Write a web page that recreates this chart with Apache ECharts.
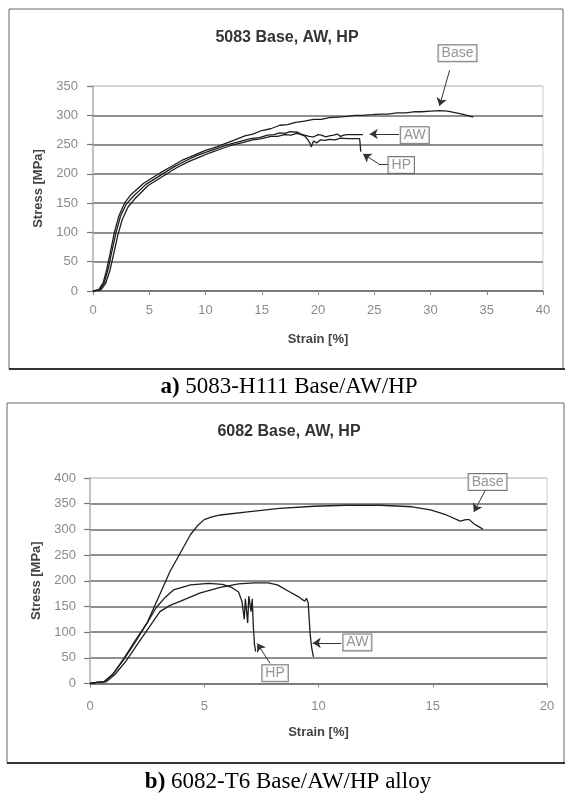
<!DOCTYPE html>
<html>
<head>
<meta charset="utf-8">
<script src="https://cdn.jsdelivr.net/npm/echarts@6/dist/echarts.min.js"></script>
<style>
html,body{margin:0;padding:0;background:#fff;}
#chart{width:565px;height:794px;}
</style>
</head>
<body>
<div id="chart"></div>
<script>
// ---------- Chart a) 5083 ----------
const titleA = '5083 Base, AW, HP';
const captionA = ['a)', ' 5083-H111 Base/AW/HP'];
const xTicksA = {min: 0, max: 40, interval: 5};
const yTicksA = {min: 0, max: 350, interval: 50};
const baseA = [[0,0],[0.5,2],[0.9,14],[1.2,35],[1.5,62],[1.9,100],[2.3,128],[2.8,150],[3.3,163],[4.5,184],[6.0,202],[7.0,213],[8.0,224],[9.0,232],[10.0,240],[11.0,246],[11.5,250],[12.5,257],[13.5,265],[14.2,268],[15.0,274],[15.8,277],[16.6,283],[17.3,284],[18.0,288],[18.8,290],[19.6,293],[20.3,293],[21.0,296],[21.8,297],[22.6,298],[23.3,300],[24.0,300],[24.8,301],[25.5,302],[26.2,302],[27.0,304],[27.8,304],[28.5,306],[29.2,306],[30.0,307],[30.8,308],[31.5,307],[32.3,304],[33.0,301],[33.8,297]];
const awA = [[0,0],[0.6,2],[1.0,14],[1.35,38],[1.65,65],[2.05,100],[2.45,128],[2.95,148],[3.5,160],[4.7,182],[6.2,200],[7.2,212],[8.2,222],[9.2,231],[10.2,238],[11.1,244],[12.0,250],[13.0,255],[14.0,260],[14.8,262],[15.5,266],[16.1,267],[16.6,270],[17.1,269],[17.5,272],[18.2,271],[18.5,268],[18.8,266],[19.2,264],[19.6,263],[20.0,267],[20.3,266],[20.7,263],[21.0,265],[21.4,266],[21.7,268],[22.0,264],[22.3,266],[22.6,267],[23.3,267],[24.0,267]];
const hpA = [[0,0],[0.7,2],[1.1,12],[1.5,35],[1.8,60],[2.2,95],[2.6,122],[3.1,143],[3.7,157],[4.9,180],[6.4,198],[7.4,210],[8.4,220],[9.4,228],[10.4,236],[11.3,242],[12.2,248],[13.2,253],[14.2,258],[15.0,260],[15.8,264],[16.4,264],[17.0,267],[17.6,266],[18.1,269],[18.5,267],[18.8,265],[19.1,258],[19.3,252],[19.4,246],[19.6,256],[19.9,253],[20.2,258],[20.6,257],[21.0,259],[21.5,258],[22.0,261],[22.6,260],[23.3,260],[23.7,260],[23.75,250],[23.8,238]];
const labelsA = [
  {name: 'Base', value: [32.4, 406]},
  {name: 'AW', value: [28.6, 266]},
  {name: 'HP', value: [27.4, 215]}
];
const leadersA = [
  {coords: [[26.2, 217], [25.4, 217]]}
];
const arrowsA = [
  {coords: [[31.7, 377], [30.8, 316]]},
  {coords: [[27.2, 268], [24.6, 268]]},
  {coords: [[25.4, 217], [24.0, 234]]}
];

// ---------- Chart b) 6082 ----------
const titleB = '6082 Base, AW, HP';
const captionB = ['b)', ' 6082-T6 Base/AW/HP alloy'];
const xTicksB = {min: 0, max: 20, interval: 5};
const yTicksB = {min: 0, max: 400, interval: 50};
const baseB = [[0,0],[0.3,2],[0.6,3],[1.0,18],[1.5,50],[2.0,85],[2.5,118],[3.0,168],[3.5,218],[4.0,258],[4.4,290],[4.7,307],[5.0,319],[5.3,324],[5.7,328],[6.9,334],[8.3,341],[9.8,345],[11.2,347],[12.7,347],[14.1,344],[14.9,338],[15.6,328],[16.2,316],[16.45,319],[16.6,319],[16.8,311],[17.1,303],[17.2,300]];
const awB = [[0,0],[0.3,2],[0.7,3],[1.1,18],[1.6,45],[2.1,78],[2.6,110],[3.06,140],[3.5,152],[3.94,160],[4.8,176],[5.7,187],[6.5,194],[7.2,196],[7.8,196],[8.2,192],[8.75,178],[9.15,168],[9.4,160],[9.47,166],[9.55,157],[9.63,98],[9.7,70],[9.78,52]];
const hpB = [[0,0],[0.3,2],[0.6,3],[1.0,18],[1.5,48],[2.0,82],[2.5,118],[2.9,148],[3.3,168],[3.65,182],[4.4,192],[5.2,195],[5.8,193],[6.2,187],[6.5,178],[6.65,160],[6.75,125],[6.8,165],[6.9,118],[6.95,170],[7.05,140],[7.1,165],[7.15,110],[7.2,75],[7.25,62]];
const labelsB = [
  {name: 'Base', value: [17.4, 392]},
  {name: 'AW', value: [11.7, 80]},
  {name: 'HP', value: [8.1, 20]}
];
const leadersB = [];
const arrowsB = [
  {coords: [[17.35, 380], [16.8, 334]]},
  {coords: [[11.0, 79], [9.75, 79]]},
  {coords: [[7.88, 39], [7.32, 78]]}
];

const SANS = '"Liberation Sans", Arial, sans-serif';
const SERIF = '"Liberation Serif", "Times New Roman", serif';
const GRID_C = '#6a6a6a';

function splitColors(n) {
  const arr = [];
  for (let i = 0; i < n; i++) arr.push(i === n - 1 ? '#cfcfcf' : GRID_C);
  return arr;
}

function xAxisCfg(idx, ticks, margin, gap) {
  return {
    gridIndex: idx, type: 'value', min: ticks.min, max: ticks.max, interval: ticks.interval,
    name: 'Strain [%]', nameLocation: 'middle', nameGap: gap,
    nameTextStyle: {fontFamily: SANS, fontWeight: 'bold', fontSize: 13, color: '#444'},
    axisLine: {show: true, lineStyle: {color: '#777', width: 1.5}},
    axisTick: {show: true, length: 4, lineStyle: {color: '#888'}},
    axisLabel: {fontFamily: SANS, fontSize: 13, color: '#8a8a8a', margin: margin},
    splitLine: {show: false}
  };
}
function yAxisCfg(idx, ticks, gap, margin) {
  const n = (ticks.max - ticks.min) / ticks.interval + 1;
  return {
    gridIndex: idx, type: 'value', min: ticks.min, max: ticks.max, interval: ticks.interval,
    name: 'Stress [MPa]', nameLocation: 'middle', nameGap: gap, nameRotate: 90,
    nameTextStyle: {fontFamily: SANS, fontWeight: 'bold', fontSize: 13, color: '#444'},
    axisLine: {show: true, lineStyle: {color: '#b5b5b5', width: 1.5}},
    axisTick: {show: true, length: 6, lineStyle: {color: '#777', width: 1.2}},
    axisLabel: {fontFamily: SANS, fontSize: 13, color: '#8a8a8a', margin: margin},
    splitLine: {show: true, lineStyle: {color: splitColors(n), width: 1.5}}
  };
}
function curve(name, data, idx) {
  return {
    name: name, type: 'line', xAxisIndex: idx, yAxisIndex: idx, data: data,
    showSymbol: false, symbol: 'none', smooth: false, clip: false,
    lineStyle: {color: '#1e1e1e', width: 1.3}, z: 3
  };
}
function labelSeries(data, idx) {
  return {
    type: 'scatter', xAxisIndex: idx, yAxisIndex: idx, data: data, symbolSize: 1,
    itemStyle: {color: 'rgba(0,0,0,0)'}, clip: false, z: 5, silent: true,
    label: {
      show: true, position: 'inside', formatter: '{b}',
      fontFamily: SANS, fontSize: 14, color: '#7a7a7a',
      backgroundColor: '#fff', borderColor: '#555', borderWidth: 1, padding: [1, 3, 0, 3], lineHeight: 15
    }
  };
}
function segSeries(data, idx, withArrow) {
  return {
    type: 'lines', coordinateSystem: 'cartesian2d', xAxisIndex: idx, yAxisIndex: idx,
    polyline: false, data: data, clip: false, z: 4, silent: true,
    symbol: withArrow ? ['none', 'arrow'] : ['none', 'none'], symbolSize: withArrow ? [6, 8] : 0,
    itemStyle: {color: '#222'},
    lineStyle: {color: '#333', width: 1, opacity: 1, curveness: 0}
  };
}

const chart = echarts.init(document.getElementById('chart'), null, {renderer: 'canvas'});
chart.setOption({
  animation: false,
  backgroundColor: '#fff',
  grid: [
    {left: 93, top: 86, width: 450, height: 205, show: true, borderColor: '#cfcfcf', borderWidth: 1, backgroundColor: '#fff'},
    {left: 90, top: 478, width: 457, height: 205.5, show: true, borderColor: '#cfcfcf', borderWidth: 1, backgroundColor: '#fff'}
  ],
  xAxis: [xAxisCfg(0, xTicksA, 13, 42), xAxisCfg(1, xTicksB, 16, 42)],
  yAxis: [yAxisCfg(0, yTicksA, 46, 15), yAxisCfg(1, yTicksB, 45, 14)],
  series: [
    curve('Base', baseA, 0), curve('AW', awA, 0), curve('HP', hpA, 0),
    segSeries(leadersA, 0, false), segSeries(arrowsA, 0, true), labelSeries(labelsA, 0),
    curve('Base', baseB, 1), curve('AW', awB, 1), curve('HP', hpB, 1),
    segSeries(leadersB, 1, false), segSeries(arrowsB, 1, true), labelSeries(labelsB, 1)
  ],
  graphic: [
    {type: 'rect', shape: {x: 9, y: 9, width: 554, height: 360}, style: {fill: 'none', stroke: '#666', lineWidth: 1}, z: -10},
    {type: 'line', shape: {x1: 9, y1: 369, x2: 565, y2: 369}, style: {stroke: '#333', lineWidth: 2}, z: -10},
    {type: 'rect', shape: {x: 7, y: 403, width: 557, height: 360}, style: {fill: 'none', stroke: '#666', lineWidth: 1}, z: -10},
    {type: 'line', shape: {x1: 7, y1: 763, x2: 565, y2: 763}, style: {stroke: '#333', lineWidth: 2}, z: -10},
    {type: 'text', x: 287, y: 38, style: {text: titleA, font: 'bold 16px ' + SANS, fill: '#333', textAlign: 'center', textVerticalAlign: 'middle', align: 'center', verticalAlign: 'middle'}},
    {type: 'text', x: 289, y: 432, style: {text: titleB, font: 'bold 16px ' + SANS, fill: '#333', textAlign: 'center', textVerticalAlign: 'middle', align: 'center', verticalAlign: 'middle'}},
    {type: 'text', x: 289, y: 387, style: {
      text: '{b|' + captionA[0] + '}{n|' + captionA[1] + '}', textAlign: 'center', textVerticalAlign: 'middle', align: 'center', verticalAlign: 'middle',
      rich: {b: {font: 'bold 23px ' + SERIF, fill: '#000', color: '#000'}, n: {font: '23px ' + SERIF, fill: '#000', color: '#000'}}
    }},
    {type: 'text', x: 288, y: 782, style: {
      text: '{b|' + captionB[0] + '}{n|' + captionB[1] + '}', textAlign: 'center', textVerticalAlign: 'middle', align: 'center', verticalAlign: 'middle',
      rich: {b: {font: 'bold 23px ' + SERIF, fill: '#000', color: '#000'}, n: {font: '23px ' + SERIF, fill: '#000', color: '#000'}}
    }}
  ]
});
</script>
</body>
</html>
